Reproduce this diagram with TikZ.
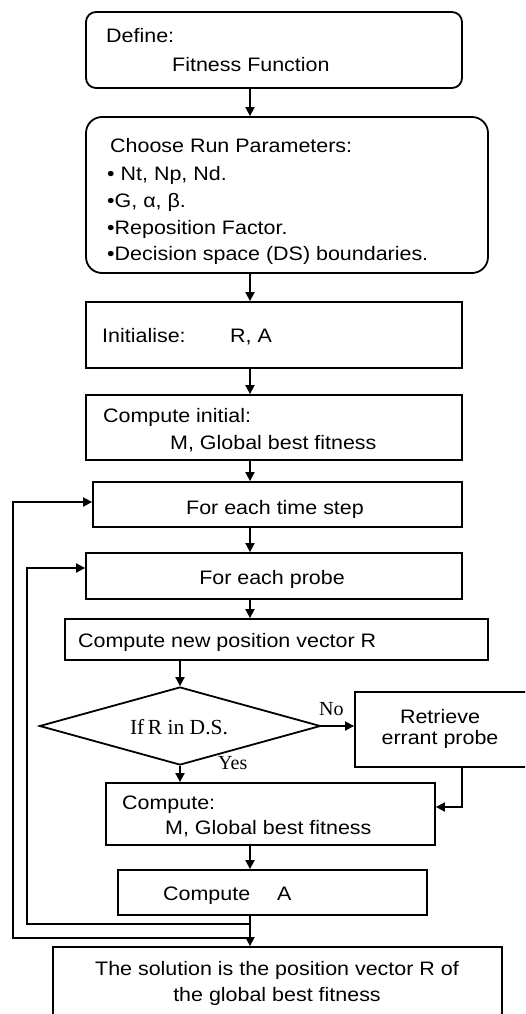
\documentclass[tikz,border=0pt]{standalone}
\usepackage{fontspec}
\setmainfont[FakeStretch=1.1]{Liberation Sans}
\newfontfamily\lblfont{Liberation Serif}
\usetikzlibrary{arrows.meta,shapes.geometric,fit}

\tikzset{
  box/.style={draw, line width=1.8pt, inner sep=0pt, fill=white},
  rbox/.style={box, rounded corners=#1},
  txt/.style={inner sep=0pt, anchor=base west, font=\fontsize{19.5}{23}\selectfont},
  ctxt/.style={txt, anchor=base},
  lbl/.style={inner sep=0pt, anchor=base west, font=\lblfont\fontsize{20}{24}\selectfont},
  flow/.style={line width=1.8pt, -{Triangle[length=9pt,width=9pt]}},
}

\begin{document}
\begin{tikzpicture}[x=1pt,y=-1pt]
\useasboundingbox (0,0) rectangle (525,1014);
\clip (0,0) rectangle (525,1014);

% main column of process boxes
\node[rbox=10pt, fit={(86,12) (462,88)}] (define) {};
\node[rbox=16pt, fit={(86,117) (488,273)}] (choose) {};
\node[box, fit={(86,302) (462,368)}] (init) {};
\node[box, fit={(86,395) (462,460)}] (cinit) {};
\node[box, fit={(93,482) (462,527)}] (tstep) {};
\node[box, fit={(86,553) (462,599)}] (probe) {};
\node[box, fit={(65,619) (488,660)}] (newpos) {};
\node[draw, diamond, line width=1.8pt, inner sep=0pt, minimum width=281pt,
      minimum height=78pt] (dec) at (180,726) {};
\node[box, fit={(355,692) (545,767)}] (retr) {};
\node[box, fit={(106,783) (435,845)}] (comp) {};
\node[box, fit={(118,870) (427,915)}] (compA) {};
\node[box, fit={(53,947) (502,1040)}] (sol) {};

% texts
\node[txt] (tdef1) at (106,43) {Define:};
\node[txt] (tdef2) at (172,72) {Fitness Function};
\node[txt] (tch1) at (110,152) {Choose Run Parameters:};
\node[txt] (tch2) at (107,180) {\textbullet\ Nt, Np, Nd.};
\node[txt] (tch3) at (107,207) {\textbullet G, α, β.};
\node[txt] (tch4) at (107,234) {\textbullet Reposition Factor.};
\node[txt] (tch5) at (107,260) {\textbullet Decision space (DS) boundaries.};
\node[txt] (tini1) at (102,342) {Initialise:};
\node[txt] (tini2) at (230,342) {R, A};
\node[txt] (tci1) at (103,422) {Compute initial:};
\node[txt] (tci2) at (170,449) {M, Global best fitness};
\node[ctxt] (tts) at (275,514) {For each time step};
\node[ctxt] (tpr) at (272,584) {For each probe};
\node[txt] (tnp) at (78,647) {Compute new position vector R};
\node[lbl, anchor=base, font=\lblfont\fontsize{21.5}{25}\selectfont] (tdec) at (179,734) {If\,R in D.S.};
\node[lbl] (tno) at (319,715) {No};
\node[lbl] (tyes) at (218,769) {Yes};
\node[ctxt] (tre1) at (440,723) {Retrieve};
\node[ctxt] (tre2) at (440,744) {errant probe};
\node[txt] (tco1) at (122,809) {Compute:};
\node[txt] (tco2) at (165,834) {M, Global best fitness};
\node[txt] (tca1) at (163,900) {Compute};
\node[txt] (tca2) at (277,900) {A};
\node[ctxt] (tso1) at (277,975) {The solution is the position vector R of};
\node[ctxt] (tso2) at (277,1001) {the global best fitness};

% spine and junction points
\coordinate (spine) at (250,0);
\coordinate (retx) at (462,0);
\coordinate (rety) at (0,807);
\coordinate (innerx) at (27,0);
\coordinate (outerx) at (13,0);
\coordinate (j1) at (250,924);
\coordinate (j2) at (250,938);
\coordinate (inin) at (0,568);
\coordinate (outin) at (0,502);

% straight-down flow
\draw[flow] (define.south -| spine) -- (choose.north -| spine);
\draw[flow] (choose.south -| spine) -- (init.north -| spine);
\draw[flow] (init.south -| spine) -- (cinit.north -| spine);
\draw[flow] (cinit.south -| spine) -- (tstep.north -| spine);
\draw[flow] (tstep.south -| spine) -- (probe.north -| spine);
\draw[flow] (probe.south -| spine) -- (newpos.north -| spine);
\draw[flow] (newpos.south -| dec.north) -- (dec.north);
\draw[flow] (dec.east) -- (retr.west |- dec.east);
\draw[flow] (dec.south) -- (comp.north -| dec.south);
\draw[flow] (retr.south -| retx) -- (retx |- rety) -- (comp.east |- rety);
\draw[flow] (comp.south -| spine) -- (compA.north -| spine);
\draw[flow] (compA.south -| spine) -- (sol.north -| spine);

% loops back to the probe and time-step boxes
\draw[flow] (j1) -- (innerx |- j1) -- (innerx |- inin) -- (probe.west |- inin);
\draw[flow] (j2) -- (outerx |- j2) -- (outerx |- outin) -- (tstep.west |- outin);
\end{tikzpicture}
\end{document}
